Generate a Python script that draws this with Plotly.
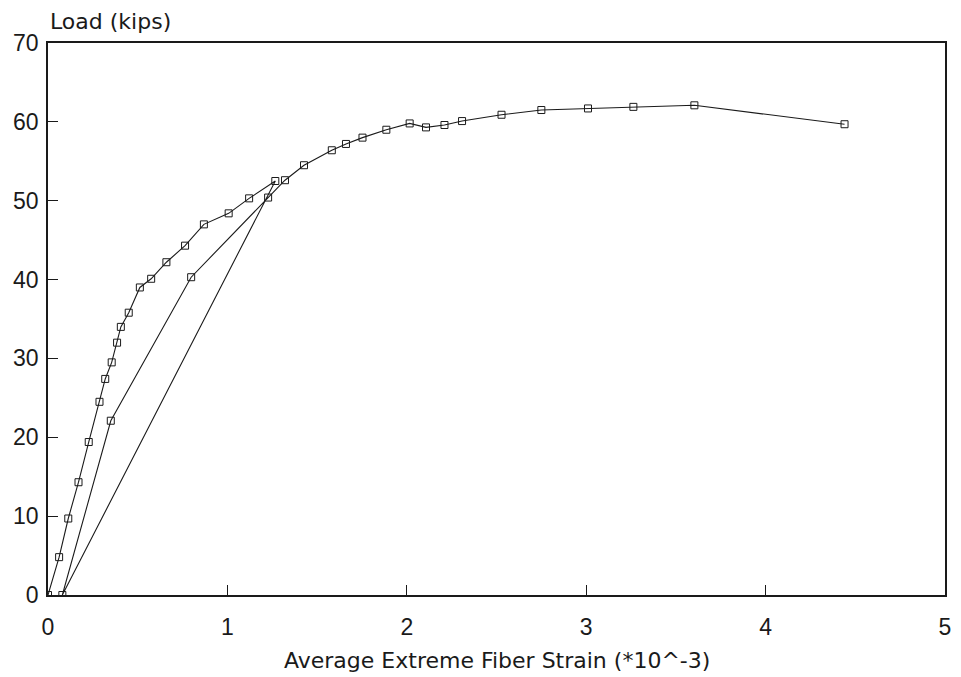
import plotly.graph_objects as go

# Load-strain record of the test: initial loading, one unload to the
# residual strain, then reloading through to the end of the test.
strain = [0.0, 0.062, 0.113, 0.170, 0.227, 0.287, 0.319, 0.355, 0.385, 0.406,
          0.450, 0.512, 0.575, 0.660, 0.764, 0.869, 1.007, 1.121, 1.267,
          0.080,
          0.350, 0.798, 1.227, 1.321, 1.427, 1.582, 1.661, 1.753, 1.886,
          2.016, 2.107, 2.210, 2.308, 2.528, 2.750, 3.010, 3.263, 3.603, 4.440]
load = [0.0, 4.8, 9.7, 14.3, 19.4, 24.5, 27.4, 29.5, 32.0, 34.0,
        35.8, 39.0, 40.1, 42.2, 44.3, 47.0, 48.4, 50.3, 52.5,
        0.0,
        22.1, 40.3, 50.4, 52.6, 54.5, 56.4, 57.2, 58.0, 59.0,
        59.8, 59.3, 59.6, 60.1, 60.9, 61.5, 61.7, 61.9, 62.1, 59.7]

x_ticks = [0, 1, 2, 3, 4, 5]
y_ticks = [0, 10, 20, 30, 40, 50, 60, 70]

x_title = "Average Extreme Fiber Strain (*10^-3)"
y_title = "Load (kips)"

ink = "#1a1a1a"
tick_font = dict(family="Liberation Sans, Arial, sans-serif", size=23, color=ink)
x_title_font = dict(family="DejaVu Sans, sans-serif", size=22, color=ink)
y_title_font = dict(family="DejaVu Sans, sans-serif", size=22, color=ink)

fig = go.Figure()
fig.add_trace(go.Scatter(
    x=strain, y=load,
    mode="lines+markers",
    line=dict(color=ink, width=1.1),
    marker=dict(symbol="square-open", size=7, color=ink, line=dict(width=1)),
    showlegend=False,
    hoverinfo="x+y",
))

axis_common = dict(
    showgrid=False, zeroline=False,
    showline=True, linecolor=ink, linewidth=1.6, mirror=True,
    ticks="inside", ticklen=10, tickwidth=1.2, tickcolor=ink,
    tickfont=tick_font,
)

fig.update_xaxes(range=[0, 5], tickvals=x_ticks,
                 ticktext=[str(v) for v in x_ticks],
                 ticklabelstandoff=11, **axis_common)
fig.update_yaxes(range=[0, 70], tickvals=y_ticks,
                 ticktext=[str(v) for v in y_ticks],
                 ticklabelstandoff=3, **axis_common)

fig.add_annotation(text=x_title, xref="paper", yref="paper",
                   x=0.5, y=0, xanchor="center", yanchor="top",
                   yshift=-51, showarrow=False, font=x_title_font)
fig.add_annotation(text=y_title, xref="paper", yref="paper",
                   x=0, y=1, xanchor="left", yanchor="bottom",
                   yshift=7, showarrow=False, font=y_title_font)

fig.update_layout(
    width=961, height=677,
    margin=dict(l=48, r=10, t=43, b=82),
    paper_bgcolor="white", plot_bgcolor="white",
)

fig.write_html("out.html")
